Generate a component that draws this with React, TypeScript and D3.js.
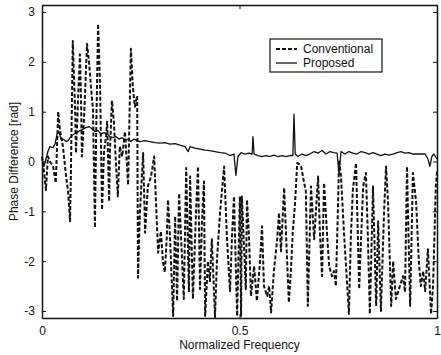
import React, { useEffect, useRef } from "react";
import * as d3 from "d3";

// Normalized frequency / phase difference [rad] pairs
const conventional: [number, number][] = [
  [0, 0.1], [0.005, -0.2], [0.01, -0.57], [0.015, 0.1], [0.02, 0.0], [0.028, -0.1], [0.035, -0.43],
  [0.041, 1.0], [0.046, 0.6], [0.053, 0.3], [0.061, -0.3], [0.066, -0.6], [0.071, -1.2], [0.073, -0.3],
  [0.078, 2.42], [0.084, 1.0], [0.086, 0.17], [0.091, 1.2], [0.096, 2.15], [0.099, 1.2], [0.101, 0.1],
  [0.106, 0.8], [0.114, 2.36], [0.119, 2.0], [0.124, 1.5], [0.129, 1.05], [0.134, -1.33], [0.137, 0.5],
  [0.142, 2.76], [0.147, 1.5], [0.152, -0.97], [0.157, 0.2], [0.162, 0.5], [0.165, 0.8], [0.17, -0.8],
  [0.172, 0.2], [0.177, 1.22], [0.182, 0.8], [0.187, 0.0], [0.192, -0.7], [0.197, 0.3], [0.203, 0.1],
  [0.21, 0.6], [0.218, -0.47], [0.225, 2.26], [0.23, 1.5], [0.235, 1.1], [0.241, 1.32], [0.243, -2.33],
  [0.248, -1.0], [0.256, 0.17], [0.261, -1.43], [0.268, -0.5], [0.276, -0.3], [0.284, 0.1], [0.289, -0.9],
  [0.294, -1.83], [0.301, -1.4], [0.306, -2.0], [0.311, -2.22], [0.316, -1.5], [0.319, -0.77], [0.324, -1.5],
  [0.332, -3.1], [0.337, -1.1], [0.342, -2.8], [0.347, -0.64], [0.352, -1.5], [0.359, -2.76], [0.365, -0.13],
  [0.372, -2.62], [0.375, -0.3], [0.382, -2.76], [0.39, -1.0], [0.395, -0.1], [0.4, -2.56], [0.405, -1.2],
  [0.41, -0.4], [0.413, -3.1], [0.42, -2.0], [0.425, -2.4], [0.43, -1.56], [0.438, -3.12], [0.443, -1.96],
  [0.451, -1.0], [0.461, -0.1], [0.468, -1.5], [0.476, -2.6], [0.481, -1.5], [0.486, -0.7], [0.494, -3.1],
  [0.501, -0.7], [0.504, -3.1], [0.506, -0.7], [0.516, -2.56], [0.519, -0.77], [0.524, -1.5], [0.529, -2.7],
  [0.537, -2.1], [0.544, -2.8], [0.552, -2.0], [0.557, -1.3], [0.562, -2.5], [0.57, -2.7], [0.575, -2.5],
  [0.58, -3.03], [0.587, -2.2], [0.595, -1.6], [0.6, -1.03], [0.605, -1.8], [0.613, -0.53], [0.618, -1.5],
  [0.625, -2.83], [0.63, -2.2], [0.635, -1.4], [0.641, -0.8], [0.646, -0.03], [0.651, -0.05], [0.656, -0.1],
  [0.663, -0.4], [0.668, -0.6], [0.673, -2.9], [0.681, -0.5], [0.689, -1.56], [0.699, -0.3], [0.704, -1.5],
  [0.709, -2.3], [0.714, -0.43], [0.722, -1.5], [0.727, -2.1], [0.734, -2.3], [0.739, -2.2], [0.744, -2.5],
  [0.749, -1.0], [0.752, 0.03], [0.757, -0.3], [0.765, -1.5], [0.772, -2.4], [0.777, -3.06], [0.782, -1.5],
  [0.787, -0.57], [0.795, -0.03], [0.803, -2.56], [0.808, -1.5], [0.813, -0.5], [0.82, -0.23], [0.825, -1.5],
  [0.83, -3.06], [0.838, -0.5], [0.846, -2.9], [0.851, -1.2], [0.858, -3.0], [0.866, -1.0], [0.871, -0.1],
  [0.876, -0.8], [0.884, -2.9], [0.889, -2.0], [0.896, -2.76], [0.906, -2.5], [0.914, -2.3], [0.919, -2.62],
  [0.924, -0.1], [0.932, -2.9], [0.939, -0.23], [0.947, -0.8], [0.954, -2.0], [0.959, -2.5], [0.965, -2.2],
  [0.97, -2.6], [0.977, -1.76], [0.985, -3.06], [0.99, -2.5], [0.997, -0.5], [1.0, -0.2],
];

const proposed: [number, number][] = [
  [0, 0.05], [0.005, -0.1], [0.01, 0.05], [0.015, 0.2], [0.02, 0.3], [0.028, 0.28], [0.033, 0.35],
  [0.038, 0.55], [0.043, 0.6], [0.048, 0.45], [0.053, 0.45], [0.061, 0.4], [0.066, 0.42], [0.073, 0.5],
  [0.081, 0.55], [0.089, 0.58], [0.096, 0.62], [0.104, 0.65], [0.111, 0.68], [0.119, 0.7], [0.127, 0.65],
  [0.134, 0.6], [0.142, 0.62], [0.149, 0.55], [0.157, 0.58], [0.165, 0.55], [0.172, 0.5], [0.18, 0.48],
  [0.187, 0.5], [0.195, 0.45], [0.203, 0.48], [0.21, 0.42], [0.218, 0.45], [0.225, 0.4], [0.233, 0.45],
  [0.241, 0.42], [0.248, 0.4], [0.261, 0.42], [0.273, 0.4], [0.286, 0.38], [0.299, 0.37], [0.311, 0.38],
  [0.324, 0.35], [0.337, 0.36], [0.349, 0.33], [0.362, 0.3], [0.37, 0.2], [0.375, 0.3], [0.387, 0.27],
  [0.4, 0.25], [0.413, 0.23], [0.425, 0.22], [0.438, 0.2], [0.451, 0.18], [0.463, 0.17], [0.476, 0.12],
  [0.486, 0.15], [0.491, -0.28], [0.496, 0.1], [0.504, 0.18], [0.514, 0.15], [0.524, 0.17], [0.532, 0.15],
  [0.534, 0.5], [0.537, 0.15], [0.547, 0.12], [0.557, 0.1], [0.567, 0.12], [0.577, 0.1], [0.587, 0.13],
  [0.597, 0.1], [0.608, 0.12], [0.618, 0.1], [0.628, 0.12], [0.635, 0.12], [0.638, 0.95], [0.641, 0.15],
  [0.648, 0.1], [0.658, 0.15], [0.668, 0.12], [0.678, 0.15], [0.689, 0.2], [0.699, 0.17], [0.709, 0.22],
  [0.719, 0.15], [0.729, 0.2], [0.739, 0.18], [0.747, 0.17], [0.752, -0.25], [0.757, 0.2], [0.767, 0.15],
  [0.777, 0.2], [0.787, 0.17], [0.797, 0.15], [0.808, 0.2], [0.818, 0.18], [0.828, 0.15], [0.838, 0.18],
  [0.848, 0.15], [0.858, 0.12], [0.868, 0.15], [0.878, 0.13], [0.889, 0.15], [0.899, 0.18], [0.909, 0.2],
  [0.919, 0.17], [0.929, 0.18], [0.939, 0.15], [0.949, 0.15], [0.959, 0.15], [0.97, 0.15], [0.977, 0.05],
  [0.982, -0.1], [0.987, 0.1], [0.992, 0.15], [1.0, 0.05],
];

const xTicks = [0, 0.5, 1];
const yTicks = [-3, -2, -1, 0, 1, 2, 3];
const seriesNames = ["Conventional", "Proposed"];

const App = () => {
  const svgRef = useRef<SVGSVGElement>(null);

  useEffect(() => {
    const width = 441;
    const height = 355;
    const margin = { top: 5, right: 4, bottom: 37, left: 42 };
    const font = "'Liberation Sans', Arial, sans-serif";

    const svg = d3.select(svgRef.current);
    svg.selectAll("*").remove();
    svg.attr("width", width).attr("height", height);

    svg.append("rect").attr("width", width).attr("height", height).attr("fill", "white");

    const x = d3.scaleLinear().domain([0, 1]).range([margin.left, width - margin.right]);
    const y = d3.scaleLinear().domain([-3.14, 3.14]).range([height - margin.bottom, margin.top]);

    const line = d3.line<[number, number]>()
      .x(d => x(d[0]))
      .y(d => y(d[1]));

    // Conventional (dashed)
    svg.append("path")
      .datum(conventional)
      .attr("d", line)
      .attr("fill", "none")
      .attr("stroke", "#111")
      .attr("stroke-width", 2)
      .attr("stroke-dasharray", "4,2")
      .attr("stroke-linejoin", "round");

    // Proposed (solid)
    svg.append("path")
      .datum(proposed)
      .attr("d", line)
      .attr("fill", "none")
      .attr("stroke", "#111")
      .attr("stroke-width", 1.3)
      .attr("stroke-linejoin", "round");

    // Axes, ticks inward on all sides
    const bottom = svg.append("g")
      .attr("transform", `translate(0,${height - margin.bottom})`)
      .call(d3.axisBottom(x).tickValues(xTicks).tickSizeInner(-4).tickSizeOuter(0).tickPadding(8)
        .tickFormat(d => String(d)));
    const top = svg.append("g")
      .attr("transform", `translate(0,${margin.top})`)
      .call(d3.axisTop(x).tickValues(xTicks).tickSizeInner(-4).tickSizeOuter(0).tickFormat(() => ""));
    const left = svg.append("g")
      .attr("transform", `translate(${margin.left},0)`)
      .call(d3.axisLeft(y).tickValues(yTicks).tickSizeInner(-4).tickSizeOuter(0).tickPadding(7)
        .tickFormat(d => String(d)));
    const right = svg.append("g")
      .attr("transform", `translate(${width - margin.right},0)`)
      .call(d3.axisRight(y).tickValues(yTicks).tickSizeInner(-4).tickSizeOuter(0).tickFormat(() => ""));

    [bottom, top, left, right].forEach(g => {
      g.select(".domain").attr("stroke", "#111").attr("stroke-width", 1.5);
      g.selectAll(".tick line").attr("stroke", "#111").attr("stroke-width", 1);
      g.selectAll(".tick text")
        .attr("fill", "#111")
        .style("font-family", font)
        .style("font-size", "12px");
    });

    // Axis labels
    svg.append("text")
      .attr("x", (margin.left + width - margin.right) / 2)
      .attr("y", height - 6)
      .attr("text-anchor", "middle")
      .style("font-family", font)
      .style("font-size", "12px")
      .attr("fill", "#111")
      .text("Normalized Frequency");

    svg.append("text")
      .attr("transform", "rotate(-90)")
      .attr("x", -(margin.top + height - margin.bottom) / 2)
      .attr("y", 18)
      .attr("text-anchor", "middle")
      .style("font-family", font)
      .style("font-size", "12px")
      .attr("fill", "#111")
      .text("Phase Difference [rad]");

    // Legend
    const legend = svg.append("g").attr("transform", "translate(270,39)");
    legend.append("rect")
      .attr("width", 112)
      .attr("height", 33)
      .attr("fill", "white")
      .attr("stroke", "#111")
      .attr("stroke-width", 1.2);

    seriesNames.forEach((name, i) => {
      const row = legend.append("g").attr("transform", `translate(0,${10 + i * 14})`);
      row.append("line")
        .attr("x1", 6)
        .attr("x2", 27)
        .attr("stroke", "#111")
        .attr("stroke-width", i === 0 ? 2 : 1.3)
        .attr("stroke-dasharray", i === 0 ? "4,2" : null);
      row.append("text")
        .attr("x", 33)
        .attr("y", 4)
        .style("font-family", font)
        .style("font-size", "12px")
        .attr("fill", "#111")
        .text(name);
    });
  }, []);

  return (
    <div style={{ position: "absolute", left: 0, top: 0 }}>
      <svg ref={svgRef}></svg>
    </div>
  );
};

export default App;
